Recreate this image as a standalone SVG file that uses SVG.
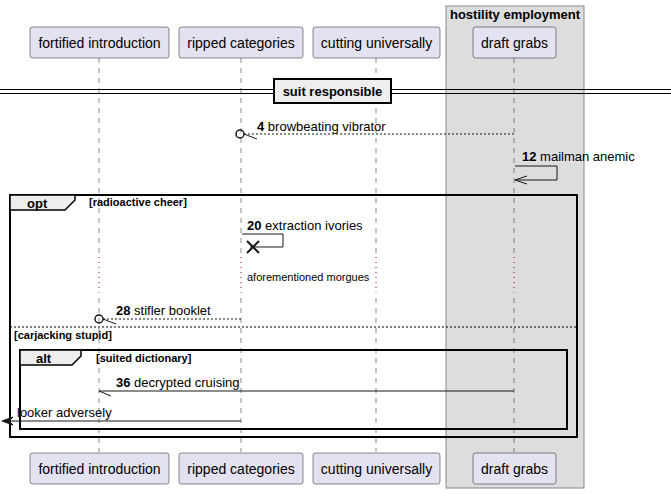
<svg xmlns="http://www.w3.org/2000/svg" width="671" height="494" viewBox="0 0 671 494">
<defs>
<style>
.part{fill:#E2E2F0;stroke:#181818;stroke-width:0.5}
.pt{font-family:"Liberation Sans",Arial,sans-serif;font-size:14px;fill:#000}
.life{stroke:#181818;stroke-width:0.5;stroke-dasharray:5,5}
.delay{stroke:#A80036;stroke-width:1;stroke-dasharray:1,4}
.msg{font-family:"Liberation Sans",Arial,sans-serif;font-size:13px;fill:#000}
.num{font-weight:bold}
.grd{font-family:"Liberation Sans",Arial,sans-serif;font-size:11px;font-weight:bold;fill:#000}
.frame{fill:none;stroke:#000;stroke-width:2}
.tab{fill:#EEEEEE;stroke:#000;stroke-width:1.5}
.tabt{font-family:"Liberation Sans",Arial,sans-serif;font-size:13px;font-weight:bold;fill:#000}
.ln{stroke:#181818;stroke-width:1;fill:none}
.dash{stroke:#181818;stroke-width:1;stroke-dasharray:2,2;fill:none}
</style>
</defs>
<rect width="671" height="494" fill="#FFFFFF"/>
<g id="box-hostility">
<rect x="446" y="6" width="138" height="482" fill="#DDDDDD" stroke="#888888" stroke-width="1"/>
<text x="515" y="19" text-anchor="middle" style="font-family:'Liberation Sans',Arial,sans-serif;font-size:13px;font-weight:bold">hostility employment</text>
</g>
<g id="lifelines">
<line class="life" x1="99" y1="58" x2="99" y2="452"/>
<line class="life" x1="241" y1="58" x2="241" y2="452"/>
<line class="life" x1="376" y1="58" x2="376" y2="452"/>
<line class="life" x1="514" y1="58" x2="514" y2="452"/>
</g>
<g id="delay">
<line x1="99" y1="257" x2="99" y2="292" stroke="#FFFFFF" stroke-width="2"/>
<line x1="241" y1="257" x2="241" y2="292" stroke="#FFFFFF" stroke-width="2"/>
<line x1="376" y1="257" x2="376" y2="292" stroke="#FFFFFF" stroke-width="2"/>
<line x1="514" y1="257" x2="514" y2="292" stroke="#DDDDDD" stroke-width="2"/>
<line class="delay" x1="99" y1="257" x2="99" y2="292"/>
<line class="delay" x1="241" y1="257" x2="241" y2="292"/>
<line class="delay" x1="376" y1="257" x2="376" y2="292"/>
<line class="delay" x1="514" y1="257" x2="514" y2="292"/>
<text x="247" y="281" style="font-family:'Liberation Sans',Arial,sans-serif;font-size:11px">aforementioned morgues</text>
</g>
<g id="p-fortified-top"><rect class="part" x="30" y="27" width="139" height="31" rx="2.5"/><text class="pt" x="99.5" y="48" text-anchor="middle">fortified introduction</text></g>
<g id="p-ripped-top"><rect class="part" x="179" y="27" width="124" height="31" rx="2.5"/><text class="pt" x="241" y="48" text-anchor="middle">ripped categories</text></g>
<g id="p-cutting-top"><rect class="part" x="313" y="27" width="127" height="31" rx="2.5"/><text class="pt" x="376.5" y="48" text-anchor="middle">cutting universally</text></g>
<g id="p-draft-top"><rect class="part" x="473" y="27" width="83" height="31" rx="2.5"/><text class="pt" x="514.5" y="48" text-anchor="middle">draft grabs</text></g>
<g id="p-fortified-bottom"><rect class="part" x="30" y="453" width="139" height="31" rx="2.5"/><text class="pt" x="99.5" y="474" text-anchor="middle">fortified introduction</text></g>
<g id="p-ripped-bottom"><rect class="part" x="179" y="453" width="124" height="31" rx="2.5"/><text class="pt" x="241" y="474" text-anchor="middle">ripped categories</text></g>
<g id="p-cutting-bottom"><rect class="part" x="313" y="453" width="127" height="31" rx="2.5"/><text class="pt" x="376.5" y="474" text-anchor="middle">cutting universally</text></g>
<g id="p-draft-bottom"><rect class="part" x="473" y="453" width="83" height="31" rx="2.5"/><text class="pt" x="514.5" y="474" text-anchor="middle">draft grabs</text></g>
<g id="divider">
<line x1="0" y1="89.5" x2="671" y2="89.5" stroke="#000" stroke-width="1"/>
<line x1="0" y1="93.5" x2="671" y2="93.5" stroke="#000" stroke-width="1"/>
<rect x="274" y="79" width="117" height="24" fill="#EEEEEE" stroke="#000" stroke-width="2"/>
<text x="332.5" y="96" text-anchor="middle" class="tabt">suit responsible</text>
</g>
<g id="frame-opt">
<rect class="frame" x="10" y="195" width="567" height="242"/>
<path class="tab" d="M10,195 H75 V200 L65,210 H10 Z"/>
<text class="tabt" x="27" y="208">opt</text>
<text class="grd" x="89" y="206">[radioactive cheer]</text>
<line x1="10" y1="327" x2="577" y2="327" stroke="#000" stroke-width="1" stroke-dasharray="2,2"/>
<text class="grd" x="14" y="339">[carjacking stupid]</text>
</g>
<g id="frame-alt">
<rect class="frame" x="20" y="350" width="547" height="79"/>
<path class="tab" d="M20,350 H81 V356 L72,365 H20 Z"/>
<text class="tabt" x="36" y="363">alt</text>
<text class="grd" x="96" y="362">[suited dictionary]</text>
</g>
<g id="connectors">
<g id="m4">
<line class="dash" x1="244" y1="134" x2="514" y2="134"/>
<circle cx="240" cy="134" r="4" fill="none" stroke="#181818" stroke-width="1.5"/>
<line class="ln" x1="244" y1="134" x2="257" y2="139"/>
<text class="msg" x="257" y="131"><tspan class="num">4</tspan> browbeating vibrator</text>
</g>
<g id="m12">
<polyline class="ln" points="515,166 557,166 557,180 515,180"/>
<polyline class="ln" points="527,176 515,180 527,184"/>
<text class="msg" x="522" y="161"><tspan class="num">12</tspan> mailman anemic</text>
</g>
<g id="m20">
<polyline class="ln" points="242,234 283,234 283,247 250,247"/>
<path d="M247,241 L259,253 M259,241 L247,253" stroke="#181818" stroke-width="2"/>
<text class="msg" x="247" y="230"><tspan class="num">20</tspan> extraction ivories</text>
</g>
<g id="m28">
<line class="dash" x1="103" y1="319" x2="241" y2="319"/>
<circle cx="99" cy="319" r="4" fill="none" stroke="#181818" stroke-width="1.5"/>
<line class="ln" x1="103" y1="319" x2="116" y2="324"/>
<text class="msg" x="116" y="315"><tspan class="num">28</tspan> stifler booklet</text>
</g>
<g id="m36">
<line class="ln" x1="99" y1="391" x2="514" y2="391"/>
<line class="ln" x1="99" y1="391" x2="111" y2="396"/>
<text class="msg" x="116" y="387"><tspan class="num">36</tspan> decrypted cruising</text>
</g>
<g id="mlooker">
<line class="ln" x1="4" y1="421" x2="241" y2="421"/>
<path d="M2,421 L13,417 L9,421 L13,425 Z" fill="#181818" stroke="#181818" stroke-width="1"/>
<text class="msg" x="17" y="417">looker adversely</text>
</g>
</g>
</svg>
